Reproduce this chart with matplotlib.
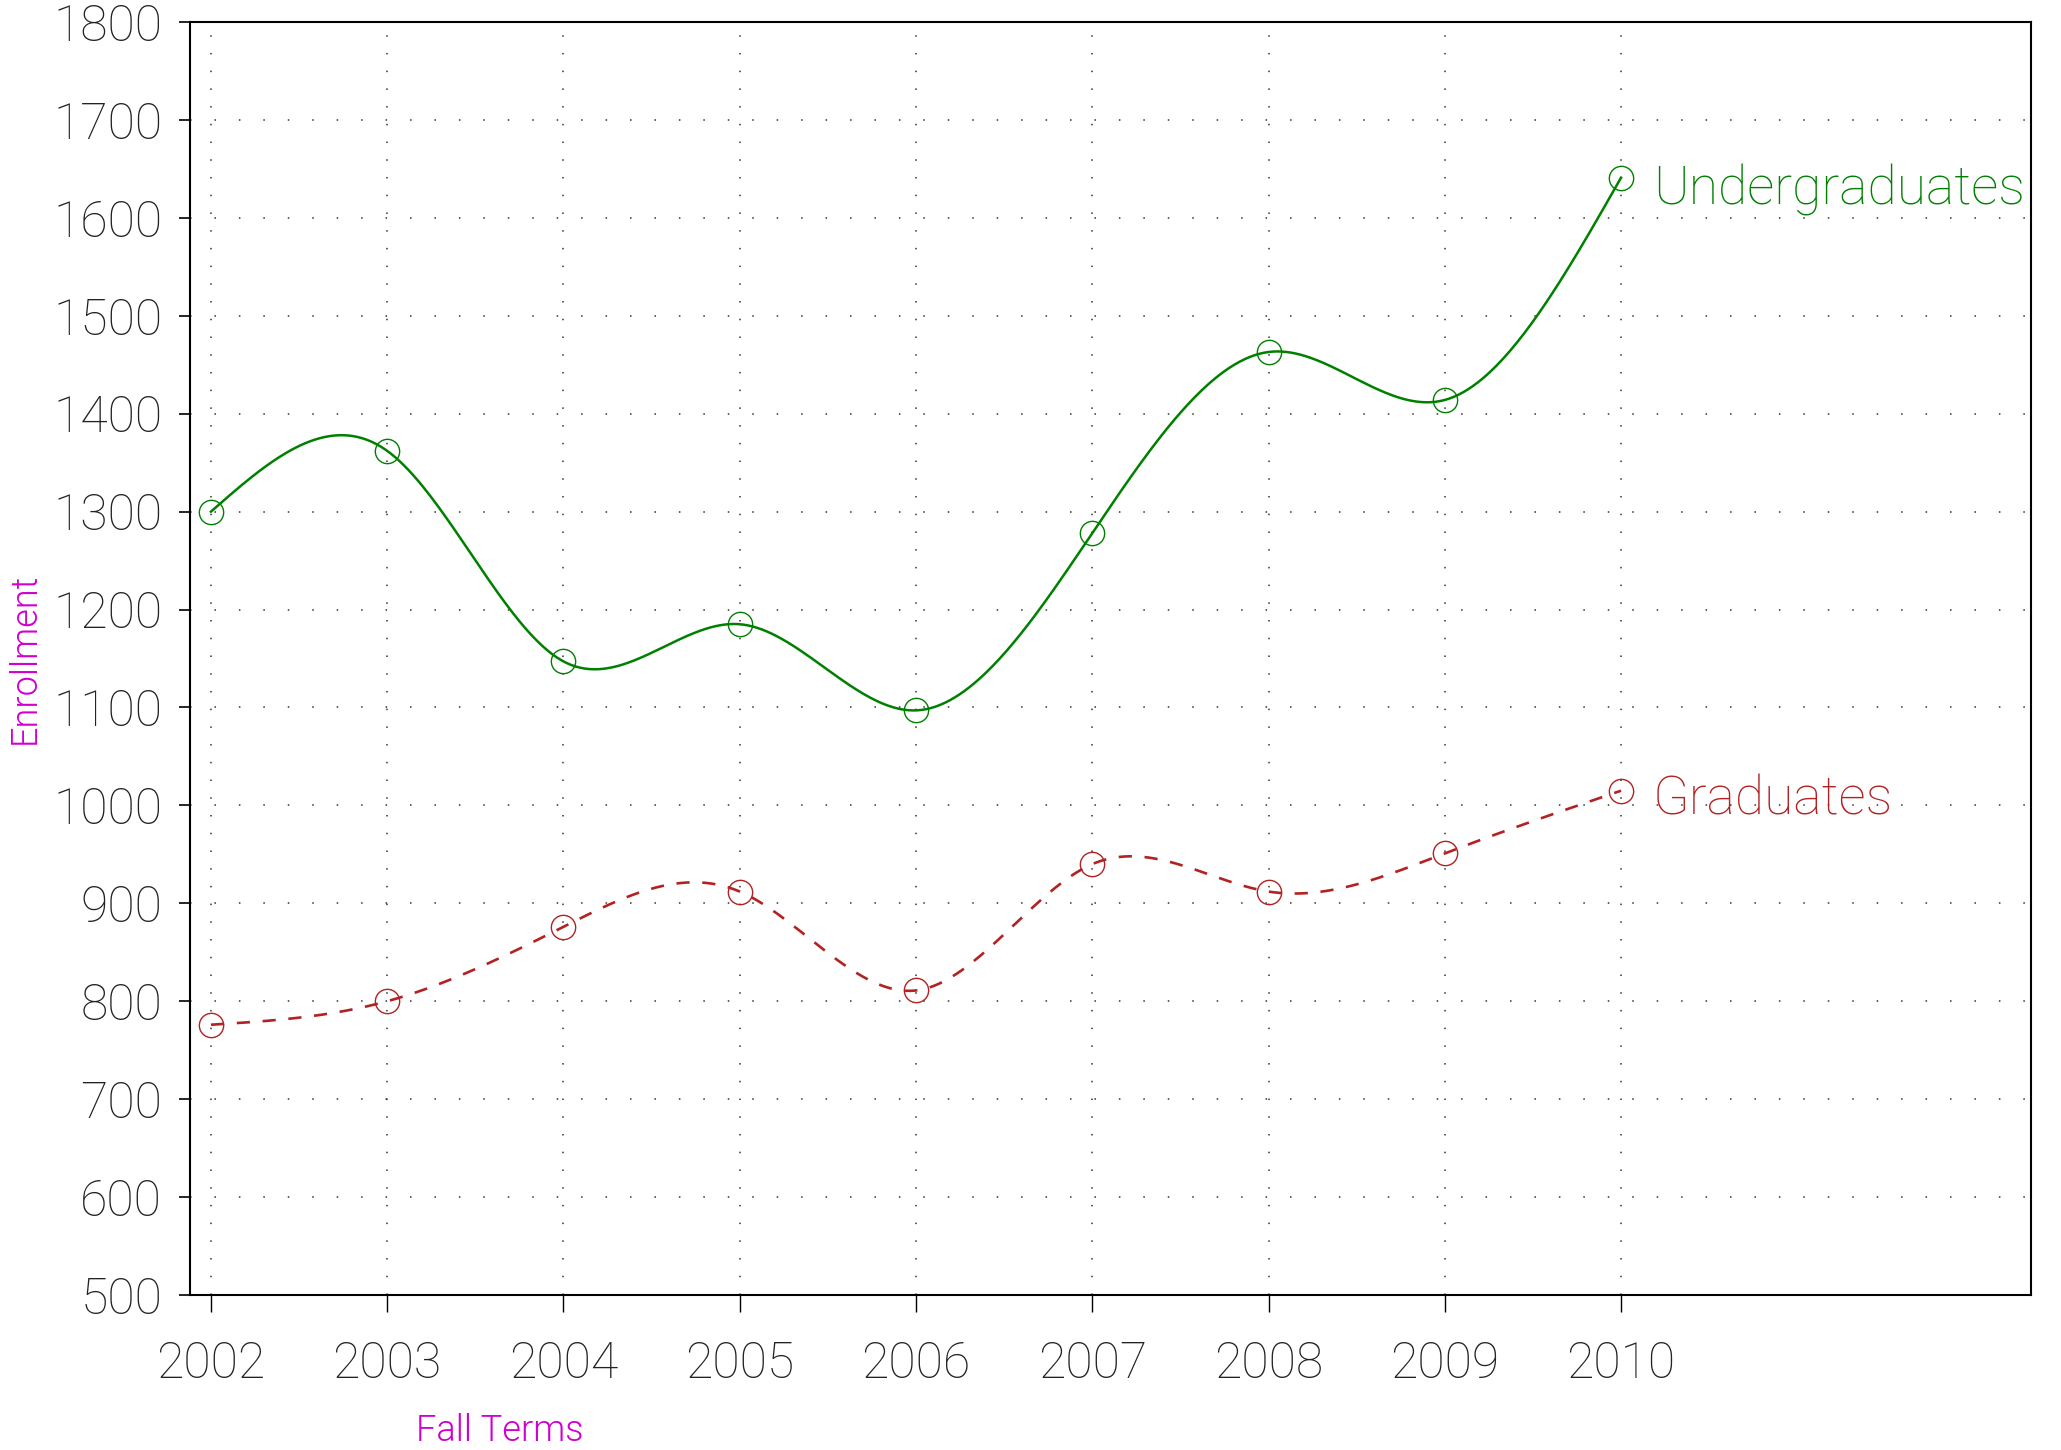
import numpy as np
import matplotlib
matplotlib.use('Agg')
import matplotlib.pyplot as plt

# ---- data ----
years = [2002, 2003, 2004, 2005, 2006, 2007, 2008, 2009, 2010]
undergrad = [1300, 1362, 1147, 1185, 1097, 1278, 1463, 1414, 1641]
grad = [776, 800, 876, 912, 811, 940, 912, 951, 1015]
yticks = list(range(500, 1801, 100))
series_names = ['Undergraduates', 'Graduates']
x_title = 'Fall Terms'
y_title = 'Enrollment'


def natural_spline(x, y, n=600):
    x = np.asarray(x, float)
    y = np.asarray(y, float)
    N = len(x)
    h = np.diff(x)
    A = np.zeros((N, N))
    r = np.zeros(N)
    A[0, 0] = 1.0
    A[-1, -1] = 1.0
    for i in range(1, N - 1):
        A[i, i - 1] = h[i - 1]
        A[i, i] = 2 * (h[i - 1] + h[i])
        A[i, i + 1] = h[i]
        r[i] = 3 * ((y[i + 1] - y[i]) / h[i] - (y[i] - y[i - 1]) / h[i - 1])
    c = np.linalg.solve(A, r)
    b = (y[1:] - y[:-1]) / h - h * (2 * c[:-1] + c[1:]) / 3
    d = (c[1:] - c[:-1]) / (3 * h)
    xs = np.linspace(x[0], x[-1], n)
    idx = np.clip(np.searchsorted(x, xs, side='right') - 1, 0, N - 2)
    t = xs - x[idx]
    ys = y[idx] + b[idx] * t + c[idx] * t ** 2 + d[idx] * t ** 3
    return xs, ys


plt.rcParams['font.family'] = ['Roboto', 'DejaVu Sans']
plt.rcParams['font.weight'] = 100

fig = plt.figure(figsize=(20.61, 14.5), dpi=100)
ax = fig.add_axes([0.09219, 0.10690, 0.89326, 0.87793])

green = '#008000'
red = '#B22222'
magenta = '#D000D0'

xs, ys = natural_spline(years, undergrad)
ax.plot(xs, ys, color=green, lw=1.8, zorder=3)
ax.plot(years, undergrad, 'o', mfc='none', mec=green, ms=17.5, mew=1.0, zorder=4)

xs, ys = natural_spline(years, grad)
ax.plot(xs, ys, color=red, lw=1.9, dashes=(5.0, 4.8), zorder=3)
ax.plot(years, grad, 'o', mfc='none', mec=red, ms=17.5, mew=1.0, zorder=4)

ax.annotate(series_names[0], xy=(years[-1], undergrad[-1]), xytext=(23, -19.5),
            textcoords='offset points', ha='left', va='baseline', color=green,
            fontsize=38.5, fontweight=100, annotation_clip=False)
ax.annotate(series_names[1], xy=(years[-1], grad[-1]), xytext=(23, -17.5),
            textcoords='offset points', ha='left', va='baseline', color=red,
            fontsize=38.5, fontweight=100, annotation_clip=False)

ax.set_xlim(2001.881, 2012.326)
ax.set_ylim(500, 1800)
ax.set_xticks(years)
ax.set_xticklabels([str(y) for y in years])
ax.set_yticks(yticks)
ax.set_yticklabels([str(v) for v in yticks])

ax.set_axisbelow(True)
ax.yaxis.grid(True, color='#333333', lw=1.1, linestyle=(0, (1, 15)))
ax.xaxis.grid(True, color='#333333', lw=1.1, linestyle=(0, (1, 10.6)))

for s in ax.spines.values():
    s.set_linewidth(1.5)
    s.set_color('black')

ax.tick_params(axis='y', direction='out', length=8, width=1.2, pad=12,
               labelsize=36, labelcolor='#222222')
ax.tick_params(axis='x', direction='out', length=12, width=1.0, pad=21,
               labelsize=36, labelcolor='#222222')

ax.set_xlabel(x_title, color=magenta, fontsize=26, fontweight=300)
ax.xaxis.set_label_coords(0.168, -0.107)
ax.xaxis.label.set_va('center')
ax.set_ylabel(y_title, color=magenta, fontsize=26, fontweight=300)
ax.yaxis.set_label_coords(-0.0896, 0.5)
ax.yaxis.label.set_va('center')

fig.savefig('out.png', dpi=100)
